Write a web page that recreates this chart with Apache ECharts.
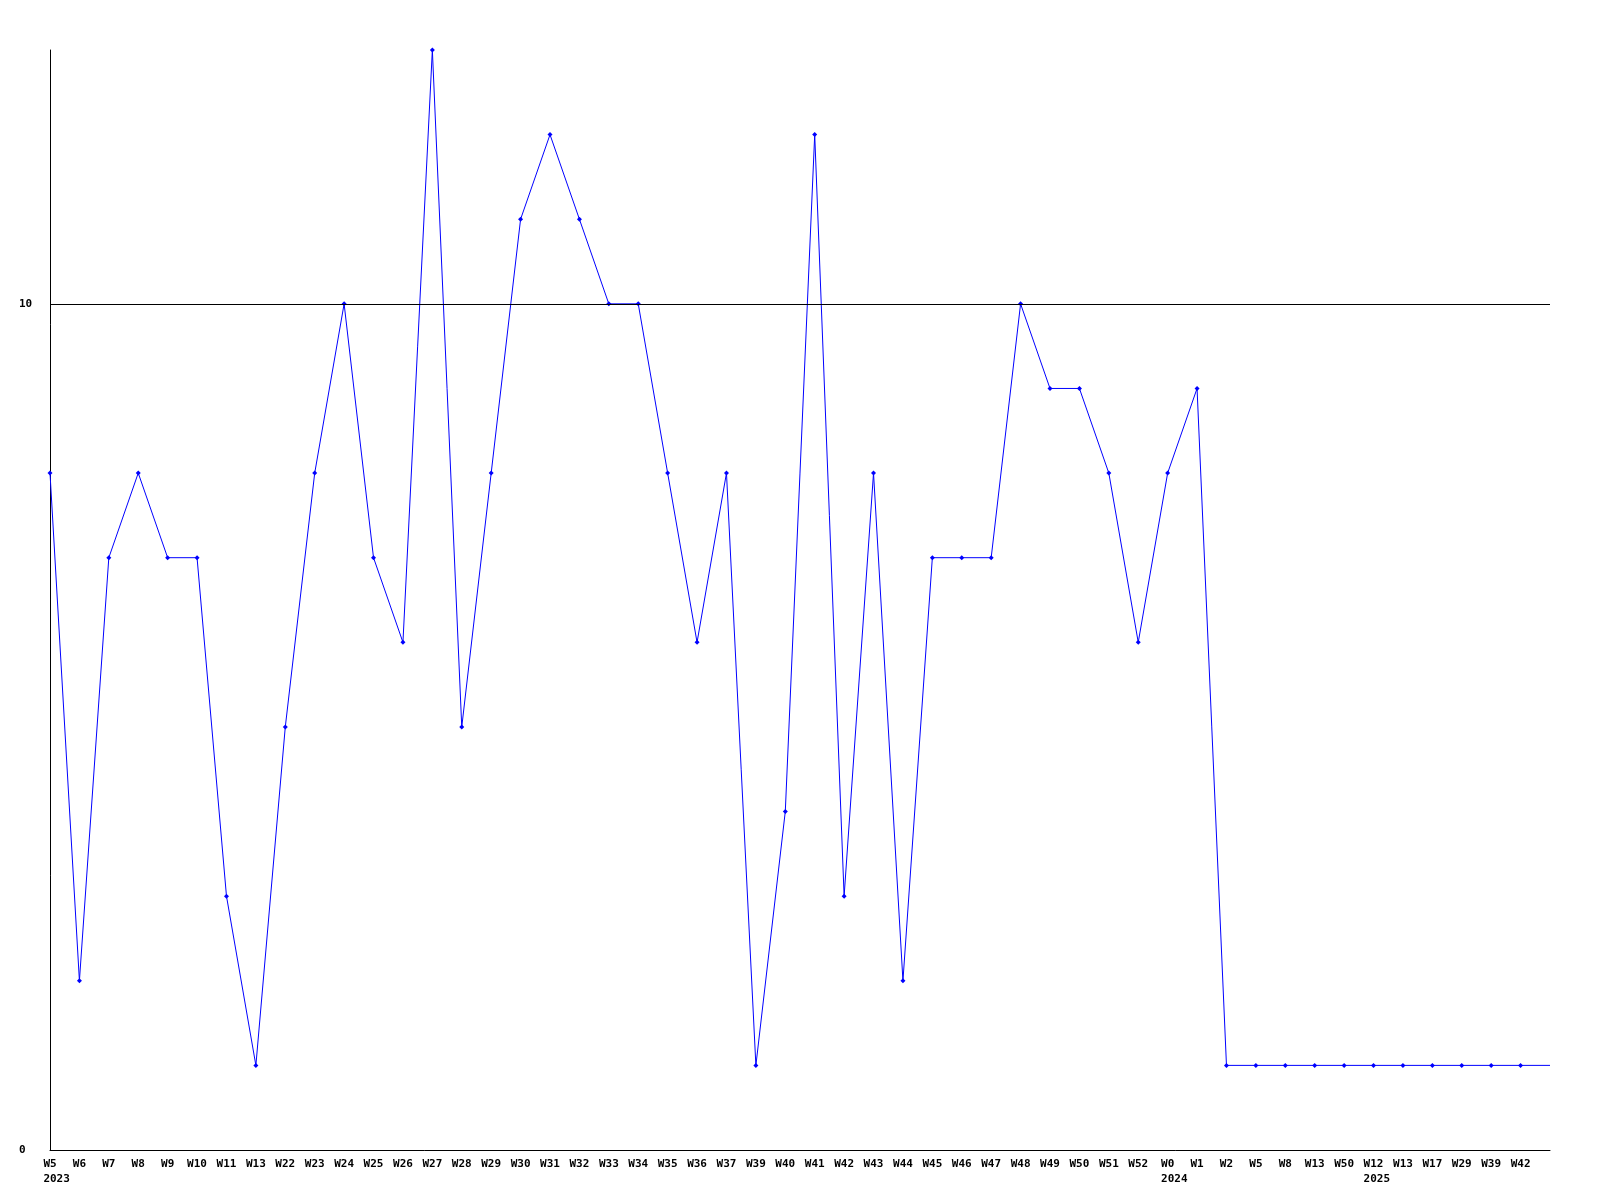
<!DOCTYPE html>
<html>
<head>
<meta charset="utf-8">
<script src="https://cdn.jsdelivr.net/npm/echarts@6/dist/echarts.min.js"></script>
<style>html,body{margin:0;padding:0;background:#fff;}#chart{width:1600px;height:1200px;}</style>
</head>
<body>
<div id="chart"></div>
<script>
// Week labels along the x axis (a trailing blank slot carries the line to the axis end)
const weeks = ['W5','W6','W7','W8','W9','W10','W11','W13','W22','W23','W24','W25','W26','W27','W28','W29','W30','W31','W32','W33','W34','W35','W36','W37','W39','W40','W41','W42','W43','W44','W45','W46','W47','W48','W49','W50','W51','W52','W0','W1','W2','W5','W8','W13','W50','W12','W13','W17','W29','W39','W42',''];
// Year shown under the first week of each year
const years = {0:'2023', 38:'2024', 45:'2025'};
// Series values
const values = [8,2,7,8,7,7,3,1,5,8,10,7,6,13,5,8,11,12,11,10,10,8,6,8,1,4,12,3,8,2,7,7,7,10,9,9,8,6,8,9,1,1,1,1,1,1,1,1,1,1,1,1];
// Y-axis labelled ticks and reference line
const yTicks = [0, 10];
const refLine = 10;

const lastIdx = weeks.length - 1;
const chart = echarts.init(document.getElementById('chart'));
chart.setOption({
  animation: false,
  backgroundColor: '#fff',
  grid: {left: 50, right: 50, top: 50, bottom: 50, containLabel: false},
  xAxis: {
    type: 'category',
    boundaryGap: false,
    data: weeks.map((w, i) => String(i)),
    axisLine: {lineStyle: {color: '#000', width: 1}},
    axisTick: {show: false},
    splitLine: {show: false},
    axisLabel: {
      interval: 0,
      margin: 7,
      color: '#000',
      fontFamily: 'DejaVu Sans Mono',
      fontWeight: 'bold',
      fontSize: 11,
      lineHeight: 15,
      verticalAlign: 'top',
      formatter: function (v, i) {
        const idx = Number(v);
        const w = weeks[idx];
        if (!years[idx]) return w;
        const pad = Math.max(0, years[idx].length - w.length);
        return w + '\n' + ' '.repeat(pad) + years[idx];
      }
    }
  },
  yAxis: {
    type: 'value',
    min: 0,
    max: 13,
    interval: 10,
    axisLine: {show: true, lineStyle: {color: '#000', width: 1}},
    axisTick: {show: false},
    splitLine: {show: false},
    axisLabel: {
      showMaxLabel: false,
      margin: 31,
      align: 'left',
      color: '#000',
      fontFamily: 'DejaVu Sans Mono',
      fontWeight: 'bold',
      fontSize: 11,
      formatter: function (v) { return yTicks.indexOf(v) >= 0 ? String(v) : ''; }
    }
  },
  series: [{
    type: 'line',
    data: values.map((v, i) => i === lastIdx ? {value: v, symbol: 'none'} : v),
    symbol: 'diamond',
    symbolSize: 5,
    showAllSymbol: true,
    lineStyle: {color: '#0000ff', width: 1},
    itemStyle: {color: '#0000ff'},
    markLine: {
      silent: true,
      symbol: 'none',
      label: {show: false},
      lineStyle: {color: '#000', width: 1, type: 'solid'},
      data: [{yAxis: refLine}]
    }
  }]
});
</script>
</body>
</html>
